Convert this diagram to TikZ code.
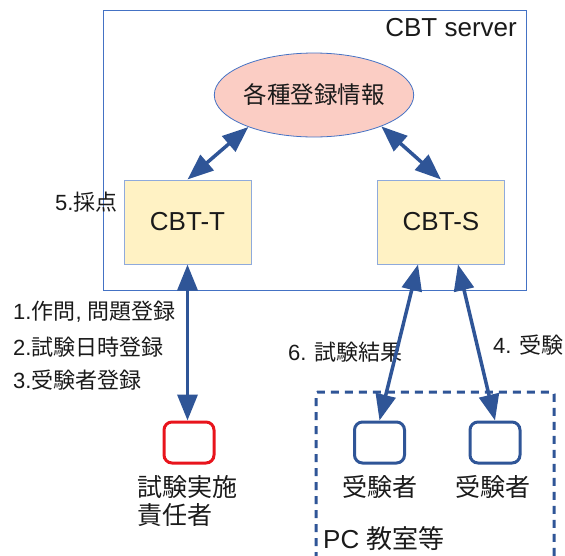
\documentclass[tikz,border=0pt]{standalone}
\usepackage{fontspec}
\setmainfont{Liberation Sans}
\newfontfamily\jp{Noto Sans CJK JP}
\usetikzlibrary{arrows.meta,shapes.geometric}
\definecolor{arrowblue}{HTML}{2F5597}
\definecolor{frameblue}{HTML}{4472C4}
\definecolor{boxfill}{HTML}{FFF2C4}
\definecolor{boxline}{HTML}{8FAADC}
\definecolor{pinkfill}{HTML}{FBCDC4}
\definecolor{redline}{HTML}{E8141C}
\definecolor{txt}{HTML}{1A1A1A}
\tikzset{
  conn/.style={draw=arrowblue, line width=3.5pt, {Triangle[length=26pt,width=20pt]}-{Triangle[length=26pt,width=20pt]}},
  serverbox/.style={draw=boxline, fill=boxfill, line width=1pt, minimum width=127pt, minimum height=84pt, inner sep=0pt, font=\fontsize{26}{30}\selectfont, text=txt},
  person/.style={draw=#1, line width=3pt, rounded corners=8pt, minimum width=50pt, minimum height=41pt, inner sep=0pt},
  lbl/.style={inner sep=0pt, text=txt, font=\fontsize{22}{26}\selectfont},
  biglbl/.style={inner sep=0pt, text=txt, font=\fontsize{25}{28}\selectfont}
}
\begin{document}
\begin{tikzpicture}[x=1pt,y=-1pt]
\useasboundingbox (0,0) rectangle (565,555);
% server frame
\node[draw=frameblue, line width=1pt, minimum width=423pt, minimum height=280pt, inner sep=0pt] (server) at (314.5,150) {};
\node[lbl, anchor=east, font=\fontsize{26}{30}\selectfont] (servername) at (517,28) {CBT server};
% database ellipse
\node[ellipse, draw=frameblue, line width=0.8pt, fill=pinkfill, minimum width=169pt, minimum height=84pt, inner sep=0pt, font=\fontsize{23.5}{28}\selectfont, text=txt] (info) at (314,95) {\jp 各種登録情報};
% CBT boxes
\node[serverbox] (cbtt) at (187.5,222) {CBT-T};
\node[serverbox] (cbts) at (441,222) {CBT-S};
\node[lbl, anchor=west] (grade) at (55,202) {5.{\jp 採点}};
% PC room
\draw[draw=arrowblue, line width=3pt, dash pattern=on 8pt off 6pt, rounded corners=2pt] (316,560) -- (316,392) -- (554,392) -- (554,560);
\coordinate (roomcorner) at (316,392);
% persons
\node[person=redline] (tutor) at (189,442.5) {};
\node[person=arrowblue] (s1) at (379.5,442.5) {};
\node[person=arrowblue] (s2) at (495,442.5) {};
\node[biglbl, anchor=north west, align=left, font=\fontsize{25}{28}\selectfont\jp] (tutorname) at (137,475) {試験実施\\責任者};
\node[biglbl, font=\fontsize{25}{28}\selectfont\jp] (s1name) at (380,487) {受験者};
\node[biglbl, font=\fontsize{25}{28}\selectfont\jp] (s2name) at (493,487) {受験者};
\node[lbl, anchor=west, font=\fontsize{26}{30}\selectfont] (roomname) at (323,539) {PC {\jp 教室等}};
% labels
\node[lbl, anchor=west] (l1) at (13,312) {1.{\jp 作問}, {\jp 問題登録}};
\node[lbl, anchor=west] (l2) at (13,347) {2.{\jp 試験日時登録}};
\node[lbl, anchor=west] (l3) at (13,380) {3.{\jp 受験者登録}};
\node[lbl, anchor=west] (l6) at (288,352) {6. {\jp 試験結果}};
\node[lbl, anchor=west] (l4) at (493,345) {4. {\jp 受験}};
% connectors
\draw[conn] (info.206) -- (cbtt.north);
\draw[conn] (info.335) -- (cbts.north);
\draw[conn] (cbtt.south) -- (cbtt.south |- tutor.north);
\draw[conn] ([xshift=-23pt]cbts.south) -- (s1.north);
\draw[conn] ([xshift=17pt]cbts.south) -- (s2.north);
\end{tikzpicture}
\end{document}
